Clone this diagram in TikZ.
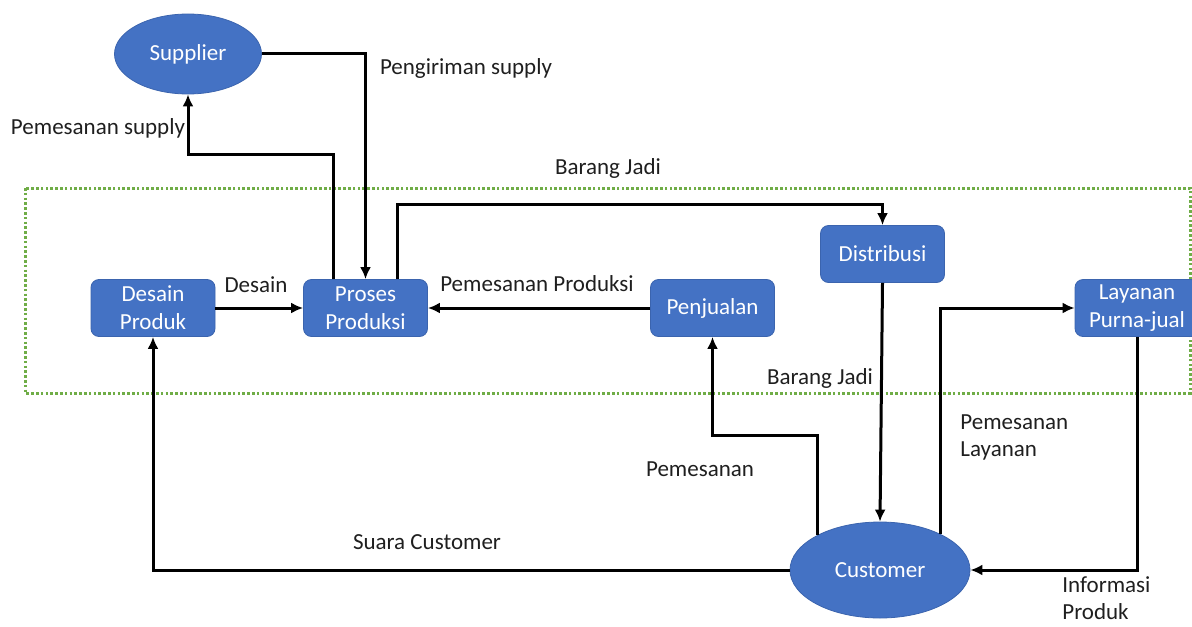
\documentclass[tikz,border=0pt]{standalone}
\usepackage{fontspec}
\setmainfont{Carlito}
\usetikzlibrary{shapes.geometric}
\usetikzlibrary{arrows.meta}
\tikzset{>={Latex[length=6pt,width=5.5pt]}}
\definecolor{boxblue}{HTML}{4472C4}
\definecolor{boxedge}{HTML}{3B64AE}
\definecolor{areagreen}{HTML}{70AD47}
\tikzstyle{flow line}=[line width=1.5pt,draw=black,->]
\tikzstyle{process}=[rectangle,rounded corners=4pt,fill=boxblue,draw=boxedge,line width=0.4pt,text=white,minimum width=62pt,minimum height=28.5pt,align=center,inner sep=1pt,font=\fontsize{11.5}{14}\selectfont]
\tikzstyle{entity}=[ellipse,fill=boxblue,draw=boxedge,line width=0.4pt,text=white,inner sep=0pt,font=\fontsize{11.5}{14}\selectfont]
\tikzstyle{flow label}=[text=black!88,align=left,inner sep=0pt,font=\fontsize{11.5}{13.5}\selectfont]
\tikzstyle{area}=[draw=areagreen,line width=1.5pt,dash pattern=on 1.3pt off 1.1pt]

\begin{document}
\begin{tikzpicture}[x=0.5pt,y=-0.5pt]
	\useasboundingbox (0,0) rectangle (1192,626);

	% Boundary of the company
	\draw[area] (25,188) rectangle (1190,393);

	% Outside parties
	\node[entity,minimum width=73.5pt,minimum height=40pt] (sup) at (188,54) {Supplier};
	\node[entity,minimum width=90pt,minimum height=48pt] (cust) at (880,570) {Customer};

	% Internal processes
	\node[process] (des) at (153,308) {Desain\\Produk};
	\node[process] (pro) at (365.5,308) {Proses\\Produksi};
	\node[process] (pen) at (712.5,308) {Penjualan};
	\node[process] (dist) at (882.5,254) {Distribusi};
	\node[process] (lay) at (1137,308) {Layanan\\Purna-jual};

	% Flows with the supplier
	\draw[flow line] (sup.east) -| (pro.north);
	\draw[flow line] ([xshift=-16pt]pro.north) -- ++(0,-125) -| (sup.south);
	\draw[flow line] ([xshift=16pt]pro.north) -- ++(0,-75) -| (dist.north);

	% Flows inside
	\draw[flow line] (des.east) -- (pro.west);
	\draw[flow line] (pen.west) -- (pro.east);

	% Flows with the customer
	\draw[flow line] (dist.south) -- (cust.north);
	\draw[flow line] (cust.151) -- ++(0,-100) -| (pen.south);
	\draw[flow line] (cust.31) |- (lay.west);
	\draw[flow line] (lay.south) |- (cust.east);
	\draw[flow line] (cust.west) -| (des.south);

	% Labels
	\node[flow label] (l_pemsup) at (98,128) {Pemesanan supply};
	\node[flow label] (l_kirim) at (466,68) {Pengiriman supply};
	\node[flow label] (l_jadi1) at (608,168) {Barang Jadi};
	\node[flow label] (l_desain) at (256,285) {Desain};
	\node[flow label] (l_pemprod) at (537,284) {Pemesanan Produksi};
	\node[flow label] (l_jadi2) at (820,378) {Barang Jadi};
	\node[flow label] (l_pesan) at (700,469) {Pemesanan};
	\node[flow label,anchor=west] (l_layanan) at (960,437) {Pemesanan\\Layanan};
	\node[flow label] (l_suara) at (427,542) {Suara Customer};
	\node[flow label,anchor=west] (l_info) at (1062,598) {Informasi\\Produk};
\end{tikzpicture}
\end{document}
